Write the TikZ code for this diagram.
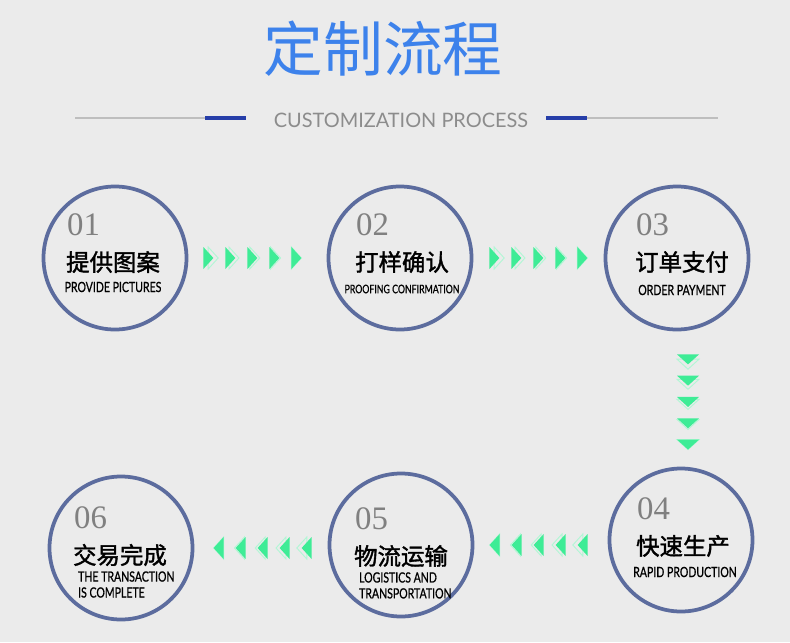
\documentclass[tikz,border=0pt]{standalone}
\usepackage{fontspec}
\setmainfont{Liberation Serif}
\newfontfamily\cjk{Noto Sans CJK SC}
\newfontfamily\cjkbold[FakeBold=1.6]{Noto Sans CJK SC}
\newfontfamily\latin{Lato}
\newfontfamily\latinbold[FakeBold=0.9]{Lato}
\usetikzlibrary{calc}
\definecolor{bgcol}{RGB}{235,235,235}
\definecolor{ringcol}{RGB}{92,108,158}
\definecolor{titlecol}{RGB}{61,130,235}
\definecolor{subcol}{RGB}{140,140,140}
\definecolor{barcol}{RGB}{38,62,168}
\definecolor{linecol}{RGB}{190,190,190}
\definecolor{numcol}{RGB}{128,128,128}
\definecolor{arrowcol}{RGB}{62,236,150}
\newcommand\squeeze[1]{\scalebox{0.75}[1]{#1}}
\tikzset{
  stepring/.style={circle, draw=ringcol, line width=3.2pt, minimum size=4.29cm, inner sep=0pt},
  num/.style={font=\fontsize{28}{28}\selectfont, text=numcol, anchor=west, inner sep=0pt},
  cn/.style={font=\cjkbold\fontsize{20}{24}\selectfont, inner sep=0pt},
  en/.style={font=\latinbold\fontsize{12}{13.6}\selectfont, inner sep=0pt},
  chev/.pic={
    \draw[arrowcol!40, line width=0.8pt, line join=miter] (-5+#1,-11) -- (5+#1,0) -- (-5+#1,11) -- cycle;
    \fill[arrowcol] (-5,-11) -- (5,0) -- (-5,11) -- cycle;
  }
}
\begin{document}
\begin{tikzpicture}[x=0.03cm, y=-0.03cm]
\fill[bgcol] (0,0) rectangle (790,642);
\useasboundingbox (0,0) rectangle (790,642);
% heading
\node[font=\cjk\fontsize{51}{51}\selectfont, text=titlecol] (title) at (383,49) {定制流程};
\node[font=\latin\fontsize{17}{17}\selectfont, text=subcol] (sub) at (401,120) {CUSTOMIZATION PROCESS};
\draw[linecol, line width=1.5pt] (75,118) -- (205,118) (587,118) -- (718,118);
\draw[barcol, line width=3.5pt] (205,118) -- (246,118) (546,118) -- (587,118);
% steps
\foreach \i/\x/\y in {1/115/258, 2/400/258, 3/677/258, 4/681/540, 5/401/545, 6/121/548}
  \node[stepring] (s\i) at (\x,\y) {};
\node[cn] (c1) at ($(s1)+(-2,4)$) {提供图案};
\node[cn] (c2) at ($(s2)+(2,4)$) {打样确认};
\node[cn] (c3) at ($(s3)+(5,4)$) {订单支付};
\node[cn] (c4) at ($(s4)+(2,6)$) {快速生产};
\node[cn] (c5) at ($(s5)+(0,11)$) {物流运输};
\node[cn] (c6) at ($(s6)+(-1,7)$) {交易完成};
\foreach \i in {1,...,6}
  \node[num] (n\i) at ($(c\i.west)+(1,-37)$) {0\i};
\node[en] (e1) at ($(c1)+(0,25)$) {\squeeze{PROVIDE PICTURES}};
\node[en, font=\latinbold\fontsize{10}{12}\selectfont] (e2) at ($(c2)+(0,27)$) {\squeeze{PROOFING CONFIRMATION}};
\node[en] (e3) at ($(c3)+(0,28)$) {\squeeze{ORDER PAYMENT}};
\node[en] (e4) at ($(c4)+(2,26)$) {\squeeze{RAPID PRODUCTION}};
\node[en, anchor=north west] (e5) at ($(c5.south west)+(5,4)$) {\squeeze{\begin{tabular}{@{}l@{}}LOGISTICS AND\\TRANSPORTATION\end{tabular}}};
\node[en, anchor=north west] (e6) at ($(c6.south west)+(5,4)$) {\squeeze{\begin{tabular}{@{}l@{}}THE TRANSACTION\\IS COMPLETE\end{tabular}}};
% chevrons between steps
\foreach \k [evaluate=\k as \g using (4-\k)*1.2] in {0,...,4} {
  \pic at ($(s1.east)+(20+22*\k,0)$) {chev=\g};
  \pic at ($(s2.east)+(21+22*\k,0)$) {chev=\g};
  \pic[rotate=-90] at ($(s3.south)+(11,28+21.3*\k)$) {chev=\g};
  \pic[rotate=180] at ($(s4.west)+(-25-22*\k,5)$) {chev=\g};
  \pic[rotate=180] at ($(s5.west)+(-21-22*\k,3)$) {chev=\g};
}
\end{tikzpicture}
\end{document}
